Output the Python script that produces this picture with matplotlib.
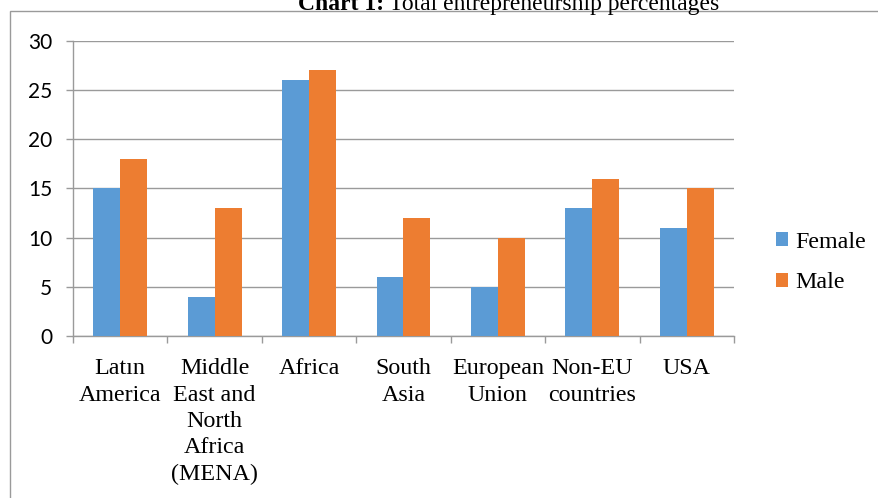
import matplotlib
matplotlib.use("Agg")
import matplotlib.pyplot as plt
import matplotlib.patches as patches
import numpy as np

categories = ["Latın\nAmerica", "Middle\nEast and\nNorth\nAfrica\n(MENA)", "Africa",
              "South\nAsia", "European\nUnion", "Non-EU\ncountries", "USA"]
female = [15, 4, 26, 6, 5, 13, 11]
male = [18, 13, 27, 12, 10, 16, 15]
yticks = [0, 5, 10, 15, 20, 25, 30]

W, H = 879, 498
fig = plt.figure(figsize=(W / 100, H / 100), dpi=100)
ax = fig.add_axes([73 / W, 1 - 336 / H, (734 - 73) / W, (336 - 41) / H])

gray = "#9A9A9A"
serif = "Liberation Serif"

x = np.arange(len(categories))
bw = 1 / 3.5
ax.bar(x - bw / 2, female, bw, color="#5B9BD5", label="Female", zorder=3)
ax.bar(x + bw / 2, male, bw, color="#ED7D31", label="Male", zorder=3)

ax.set_xlim(-0.5, len(categories) - 0.5)
ax.set_ylim(0, 30)
ax.set_yticks(yticks)
ax.set_yticklabels([str(v) for v in yticks], fontfamily="Lato", fontsize=15)
ax.yaxis.grid(True, color=gray, linewidth=1)
ax.set_axisbelow(True)

# category boundary ticks, labels centred between them
ax.set_xticks(np.arange(len(categories) + 1) - 0.5)
ax.set_xticklabels([])
ax.set_xticks(x, minor=True)
ax.set_xticklabels(categories, minor=True, fontfamily=serif, fontsize=17.3, linespacing=1.33)
ax.tick_params(axis="x", which="minor", length=0, pad=16)
ax.tick_params(axis="x", which="major", length=5, width=1, color=gray)
ax.tick_params(axis="y", length=5, width=1, color=gray, pad=10)

for s in ["top", "right"]:
    ax.spines[s].set_visible(False)
for s in ["left", "bottom"]:
    ax.spines[s].set_color(gray)
    ax.spines[s].set_linewidth(1)

fig.legend(loc="upper left", bbox_to_anchor=(754 / W, 1 - 210 / H), frameon=False,
           prop={"family": serif, "size": 17.3}, handlelength=0.5, handleheight=0.5,
           handletextpad=0.3, labelspacing=0.82)

# outer frame, running off the right and bottom edges
fig.patches.append(patches.Rectangle((9.5 / W, -0.1), 1.2, 1.1 - 11.5 / H, transform=fig.transFigure,
                                     fill=False, edgecolor=gray, linewidth=1))

# title, cut off at the top
ty = 1 - 10 / H
t1 = fig.text(298 / W, ty, "Chart 1:", fontfamily=serif, fontweight="bold", fontsize=17, va="baseline")
fig.canvas.draw()
bb = t1.get_window_extent()
fig.text((bb.x1 + 5) / W, ty, "Total entrepreneurship percentages", fontfamily=serif,
         fontsize=17, va="baseline")

fig.savefig("out.png", dpi=100)
